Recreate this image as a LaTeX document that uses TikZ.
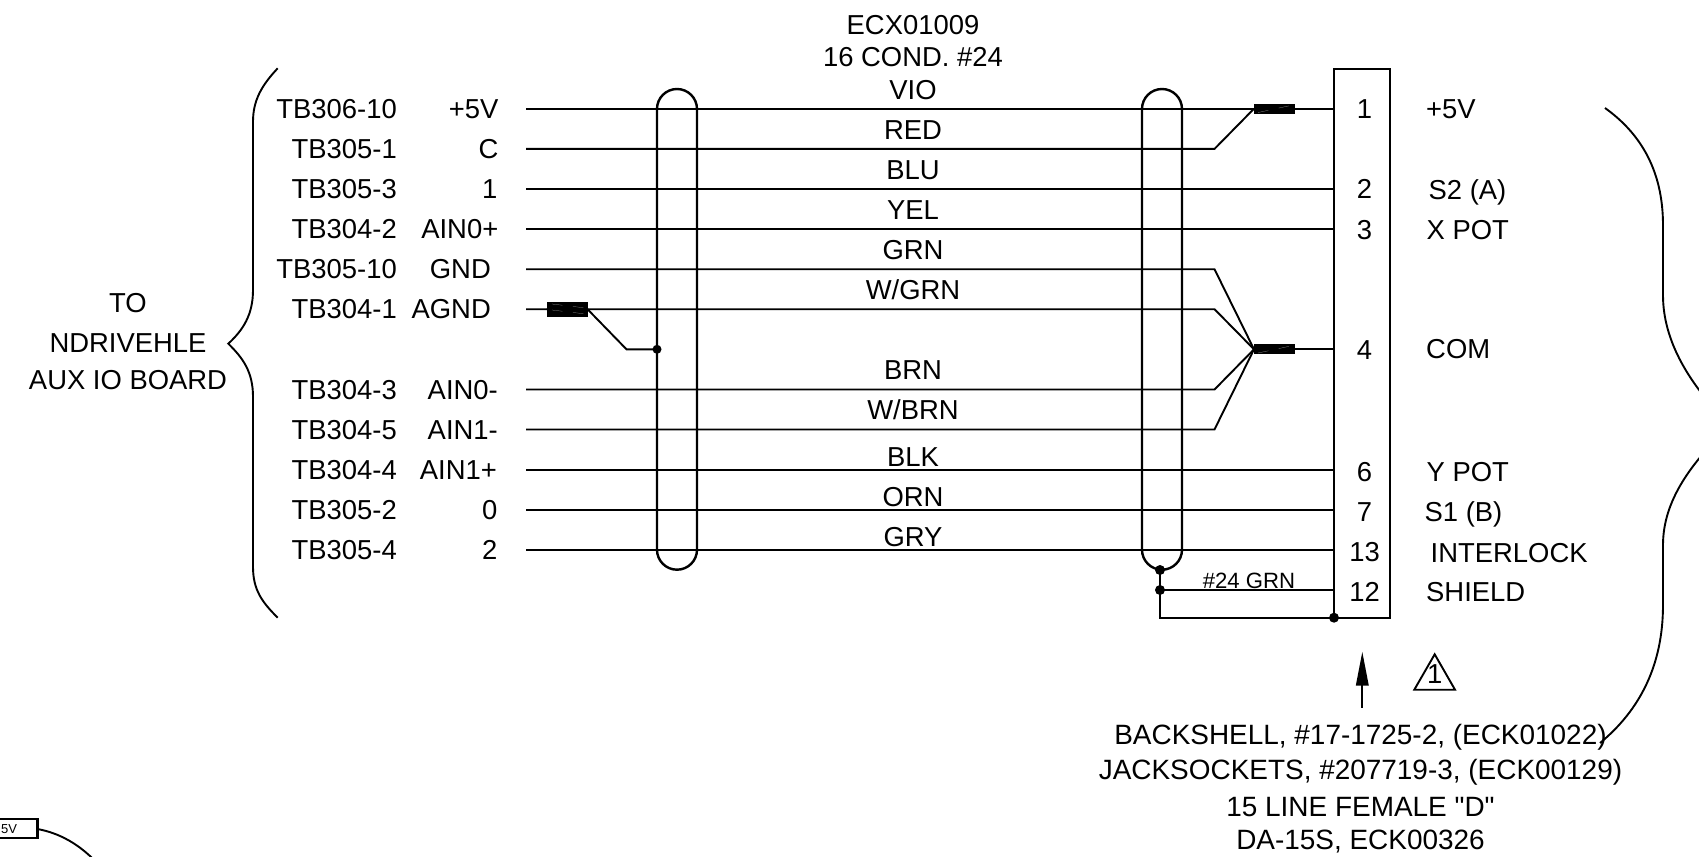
\documentclass[tikz,border=0pt]{standalone}
\usepackage{fontspec}
\setmainfont{Liberation Sans}
\newfontfamily\plainfont{Liberation Sans}
\usetikzlibrary{arrows.meta}
\tikzset{
  wire/.style={line width=0.019cm},
  heavy/.style={line width=0.024cm},
  slit/.style={gray!70,line width=0.002cm,dashed},
  txt/.style={inner sep=0pt,font=\fontsize{7.8pt}{9pt}\selectfont},
  notetxt/.style={inner sep=0pt,font=\fontsize{7.95pt}{9pt}\selectfont},
  smalltxt/.style={inner sep=0pt,font=\fontsize{6.3pt}{7pt}\selectfont},
}
\begin{document}
\begin{tikzpicture}
        \path[use as bounding box] (0,0) rectangle (16.99,-8.57);
        \clip (0,0) rectangle (16.99,-8.57);

        %wire ends on the left
        \coordinate (A1) at (5.26,-1.087);
        \coordinate (A2) at (5.26,-1.489);
        \coordinate (A3) at (5.26,-1.89);
        \coordinate (A4) at (5.26,-2.29);
        \coordinate (A5) at (5.26,-2.692);
        \coordinate (A6) at (5.26,-3.092);
        \coordinate (A7) at (5.26,-3.895);
        \coordinate (A8) at (5.26,-4.295);
        \coordinate (A9) at (5.26,-4.697);
        \coordinate (A10) at (5.26,-5.098);
        \coordinate (A11) at (5.26,-5.497);

        %wire ends on the connector
        \coordinate (P1) at (13.34,-1.087);
        \coordinate (P2) at (13.34,-1.89);
        \coordinate (P3) at (13.34,-2.29);
        \coordinate (P4) at (13.34,-3.493);
        \coordinate (P6) at (13.34,-4.697);
        \coordinate (P7) at (13.34,-5.098);
        \coordinate (P13) at (13.34,-5.497);
        \coordinate (P12) at (13.34,-5.90);
        \coordinate (Pb) at (13.34,-6.177);

        %bends
        \coordinate (B2) at (12.145,-1.489);
        \coordinate (B5) at (12.145,-2.692);
        \coordinate (B6) at (12.145,-3.092);
        \coordinate (B7) at (12.145,-3.895);
        \coordinate (B8) at (12.145,-4.295);

        %heat shrink
        \coordinate (Sa) at (12.54,-1.087);
        \coordinate (Sb) at (12.95,-1.087);
        \coordinate (Sc) at (12.54,-3.493);
        \coordinate (Sd) at (12.95,-3.493);
        \coordinate (Se) at (5.465,-3.092);
        \coordinate (Sf) at (5.875,-3.092);
        \coordinate (Sg) at (6.265,-3.493);
        \coordinate (Sh) at (6.57,-3.493);

        %shield dots
        \coordinate (Da) at (11.60,-5.70);
        \coordinate (Db) at (11.60,-5.90);
        \coordinate (Dc) at (11.60,-6.177);

        \draw[wire] (A1) -- (Sa);
        \draw[wire] (Sb) -- (P1);
        \draw[wire] (A2) -- (B2) -- (Sa);
        \draw[wire] (A3) -- (P2);
        \draw[wire] (A4) -- (P3);
        \draw[wire] (A5) -- (B5) -- (Sc);
        \draw[wire] (A6) -- (B6) -- (Sc);
        \draw[wire] (A7) -- (B7) -- (Sc);
        \draw[wire] (A8) -- (B8) -- (Sc);
        \draw[wire] (Sd) -- (P4);
        \draw[wire] (Se) -- (Sf) -- (Sg) -- (Sh);
        \draw[wire] (A9) -- (P6);
        \draw[wire] (A10) -- (P7);
        \draw[wire] (A11) -- (P13);
        \draw[wire] (Db) -- (P12);
        \draw[line width=0.027cm] (5.81,-1.89) -- (6.27,-1.89);

        %cable shields
        \draw[heavy] (6.57,-5.497) -- (6.57,-1.09) arc (180:0:0.2) -- (6.97,-5.497) arc (0:-180:0.2);
        \draw[heavy] (11.42,-5.497) -- (11.42,-1.09) arc (180:0:0.2) -- (11.82,-5.497) arc (0:-180:0.2);
        \draw[heavy] (Da) -- (Dc) -- (Pb);

        %connector
        \draw[heavy] (13.34,-0.687) rectangle (13.90,-6.177);

        \fill (12.54,-1.037) rectangle (12.95,-1.137);
        \fill (12.54,-3.443) rectangle (12.95,-3.543);
        \fill (5.465,-3.02) rectangle (5.875,-3.17);
        \draw[slit] (12.58,-1.125) -- (12.93,-1.05);
        \draw[slit] (12.58,-3.53) -- (12.93,-3.455);
        \draw[slit] (5.52,-3.04) -- (5.86,-3.08);
        \draw[slit] (5.52,-3.10) -- (5.86,-3.14);

        \fill (Sh) circle (0.045);
        \fill (Da) circle (0.05);
        \fill (Db) circle (0.05);
        \fill (Pb) circle (0.05);

        %braces
        \draw[wire] (2.777,-0.683) .. controls (2.62,-0.85) and (2.53,-1.00) .. (2.53,-1.217) -- (2.53,-2.90) .. controls (2.53,-3.15) and (2.43,-3.30) .. (2.283,-3.437) .. controls (2.43,-3.58) and (2.53,-3.72) .. (2.53,-3.967) -- (2.53,-5.667) .. controls (2.53,-5.90) and (2.62,-6.02) .. (2.777,-6.177);
        \draw[wire] (16.05,-1.08) .. controls (16.40,-1.33) and (16.63,-1.70) .. (16.63,-2.25) -- (16.63,-2.95) .. controls (16.63,-3.42) and (16.90,-3.85) .. (17.30,-4.255) .. controls (16.92,-4.62) and (16.63,-5.00) .. (16.63,-5.45) -- (16.63,-6.05) .. controls (16.63,-6.65) and (16.40,-7.10) .. (16.00,-7.43);

        %lower left corner
        \draw[heavy] (-0.2,-8.19) rectangle (0.373,-8.377);
        \draw[wire] (0.373,-8.29) .. controls (0.60,-8.33) and (0.80,-8.45) .. (0.96,-8.62);
        \node[smalltxt,font=\fontsize{3.7pt}{5pt}\selectfont,anchor=base west] (boxv) at (0.005,-8.335) {5V};

        %arrow and triangle
        \coordinate (Ta) at (13.623,-7.077);
        \coordinate (Tb) at (13.623,-6.517);
        \draw[wire,-{Triangle[length=0.34cm,width=0.125cm]}] (Ta) -- (Tb);
        \coordinate (Tc) at (14.347,-6.543);
        \coordinate (Td) at (14.143,-6.897);
        \coordinate (Te) at (14.55,-6.897);
        \draw[wire] (Tc) -- (Td) -- (Te) -- cycle;
        \node[txt,anchor=base] (tri) at (14.347,-6.83) {1};

        %left labels
        \node[txt] (to) at (1.28,-3.03) {TO};
        \node[txt] (ndrive) at (1.28,-3.43) {NDRIVEHLE};
        \node[txt] (aux) at (1.28,-3.80) {AUX IO BOARD};

        \node[txt,anchor=base east] (tba) at (3.975,-1.185) {TB306-10};
        \node[txt,anchor=base east] (tbb) at (3.975,-1.587) {TB305-1};
        \node[txt,anchor=base east] (tbc) at (3.975,-1.988) {TB305-3};
        \node[txt,anchor=base east] (tbd) at (3.975,-2.388) {TB304-2};
        \node[txt,anchor=base east] (tbe) at (3.975,-2.78) {TB305-10};
        \node[txt,anchor=base east] (tbf) at (3.975,-3.18) {TB304-1};
        \node[txt,anchor=base east] (tbg) at (3.975,-3.993) {TB304-3};
        \node[txt,anchor=base east] (tbh) at (3.975,-4.393) {TB304-5};
        \node[txt,anchor=base east] (tbi) at (3.975,-4.795) {TB304-4};
        \node[txt,anchor=base east] (tbj) at (3.975,-5.196) {TB305-2};
        \node[txt,anchor=base east] (tbk) at (3.975,-5.595) {TB305-4};

        \node[txt,anchor=base east] (sa) at (4.99,-1.185) {+5V};
        \node[txt,anchor=base east] (sb) at (4.99,-1.587) {C};
        \node[txt,anchor=base east] (sc) at (4.98,-1.988) {1};
        \node[txt,anchor=base east] (sd) at (4.99,-2.388) {AIN0+};
        \node[txt,anchor=base east] (se) at (4.915,-2.78) {GND};
        \node[txt,anchor=base east] (sf) at (4.915,-3.18) {AGND};
        \node[txt,anchor=base east] (sg) at (4.985,-3.993) {AIN0-};
        \node[txt,anchor=base east] (sh) at (4.985,-4.393) {AIN1-};
        \node[txt,anchor=base east] (si) at (4.975,-4.795) {AIN1+};
        \node[txt,anchor=base east] (sj) at (4.98,-5.196) {0};
        \node[txt,anchor=base east] (sk) at (4.98,-5.595) {2};

        %cable labels
        \node[txt] (cable) at (9.13,-0.25) {ECX01009};
        \node[txt] (cond) at (9.13,-0.574) {16 COND. \#24};
        \node[txt,anchor=base] (vio) at (9.13,-0.99) {VIO};
        \node[txt,anchor=base] (red) at (9.13,-1.39) {RED};
        \node[txt,anchor=base] (blu) at (9.13,-1.79) {BLU};
        \node[txt,anchor=base] (yel) at (9.13,-2.19) {YEL};
        \node[txt,anchor=base] (grn) at (9.13,-2.59) {GRN};
        \node[txt,anchor=base] (wgrn) at (9.13,-2.99) {W/GRN};
        \node[txt,anchor=base] (brn) at (9.13,-3.795) {BRN};
        \node[txt,anchor=base] (wbrn) at (9.13,-4.195) {W/BRN};
        \node[txt,anchor=base] (blk) at (9.13,-4.66) {BLK};
        \node[txt,anchor=base] (orn) at (9.13,-5.06) {ORN};
        \node[txt,anchor=base] (gry) at (9.13,-5.46) {GRY};
        \node[smalltxt,anchor=base] (shgrn) at (12.49,-5.88) {\#24 GRN};

        %pin numbers
        \node[txt,anchor=base] (pa) at (13.645,-1.185) {1};
        \node[txt,anchor=base] (pb) at (13.645,-1.988) {2};
        \node[txt,anchor=base] (pc) at (13.645,-2.395) {3};
        \node[txt,anchor=base] (pd) at (13.645,-3.59) {4};
        \node[txt,anchor=base] (pe) at (13.645,-4.81) {6};
        \node[txt,anchor=base] (pf) at (13.645,-5.21) {7};
        \node[txt,anchor=base] (pg) at (13.645,-5.617) {13};
        \node[txt,anchor=base] (ph) at (13.645,-6.015) {12};

        \node[txt,anchor=base west] (ra) at (14.255,-1.185) {+5V};
        \node[txt,anchor=base west] (rb) at (14.28,-1.994) {S2 (A)};
        \node[txt,anchor=base west] (rc) at (14.26,-2.395) {X POT};
        \node[txt,anchor=base west] (rd) at (14.255,-3.58) {COM};
        \node[txt,anchor=base west] (re) at (14.26,-4.81) {Y POT};
        \node[txt,anchor=base west] (rf) at (14.24,-5.21) {S1 (B)};
        \node[txt,anchor=base west] (rg) at (14.30,-5.624) {INTERLOCK};
        \node[txt,anchor=base west] (rh) at (14.255,-6.015) {SHIELD};

        %bottom note
        \node[notetxt] (nta) at (13.605,-7.37) {BACKSHELL, \#17-1725-2, (ECK01022)};
        \node[notetxt] (ntb) at (13.605,-7.72) {JACKSOCKETS, \#207719-3, (ECK00129)};
        \node[notetxt] (ntc) at (13.605,-8.07) {\plainfont 15 LINE FEMALE "D"};
        \node[notetxt] (ntd) at (13.605,-8.415) {DA-15S, ECK00326};
\end{tikzpicture}
\end{document}
